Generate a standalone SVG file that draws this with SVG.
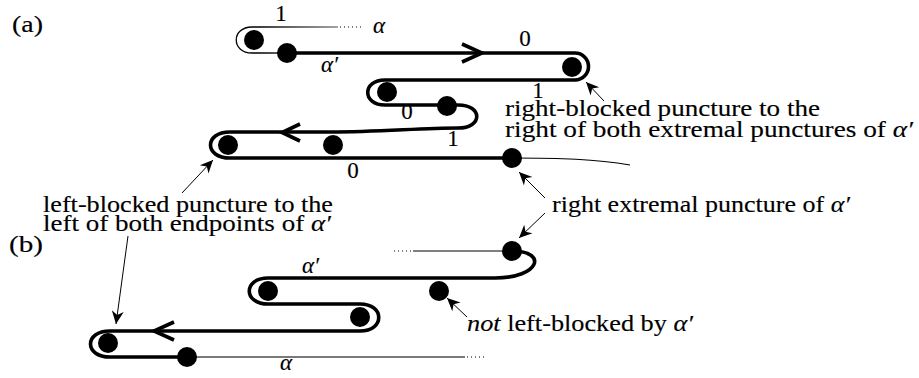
<svg xmlns="http://www.w3.org/2000/svg" width="919" height="378" viewBox="0 0 919 378">
<defs>
<style>
text{font-family:'Liberation Serif','Times New Roman',serif;font-size:23px;fill:#000;stroke:#000;stroke-width:0.15}
.m{font-style:italic}
.p{fill:#000}
.thick{fill:none;stroke:#000;stroke-width:3.6;stroke-linejoin:round}
.chev{fill:none;stroke:#000;stroke-width:3.6;stroke-linejoin:miter}
.thin{fill:none;stroke:#000;stroke-width:1.1}
.gray{fill:none;stroke:#7a7a7a;stroke-width:2}
.dot{stroke-dasharray:1 3}
.ann{fill:none;stroke:#000;stroke-width:1;marker-end:url(#ah)}
</style>
<marker id="ah" markerUnits="userSpaceOnUse" markerWidth="15" markerHeight="13" viewBox="-14 -6.5 15 13" refX="0" refY="0" orient="auto">
<path d="M0,0 L-13,-6 L-9,0 L-13,6 Z" fill="#000"/>
</marker>
<linearGradient id="ga" gradientUnits="userSpaceOnUse" x1="260" y1="0" x2="340" y2="0">
<stop offset="0" stop-color="#000"/><stop offset="1" stop-color="#888"/>
</linearGradient>
</defs>
<rect width="919" height="378" fill="#fff"/>

<g id="connectors">
  <path d="M287,53 H252 C231,53 231,27 252,27 H338" fill="none" stroke="url(#ga)" stroke-width="1.3"/>
  <path class="thin dot" d="M340,27 H364" stroke="#888"/>
  <path class="thick" d="M287,53 H575 A13.5,13.5 0 0 1 575,80 H385 C362,80 362,105 385,105 H458 C483,105 483,128 458,128 C420,128 380,132 330,132 H230 C204,132 204,158 230,158 H512"/>
  <path class="chev" d="M462,44 L482,53 L462,62"/>
  <path class="chev" d="M300,124 L282,132.5 L300,141"/>
  <path class="thin" d="M512,158 C560,158 595,159 630,165"/>
  <path class="thin" d="M512,251 H413"/>
  <path class="thin dot" d="M411,251 H392"/>
  <path class="thick" d="M512,251 C548,251 540,278 495,278 H268 C243,278 243,304 268,304 H360 C385,304 385,331 360,331 H110 C84,331 84,357 110,357 H187"/>
  <path class="chev" d="M174,322 L154,331 L174,340"/>
  <path class="gray" d="M187,357 H465"/>
  <path class="gray dot" d="M467,357 H486"/>
  <path class="ann" d="M604,101 L586,82"/>
  <path class="ann" d="M182,193 L213,160"/>
  <path class="ann" d="M128,236 L116,324"/>
  <path class="ann" d="M545,198 L519,172"/>
  <path class="ann" d="M545,213 L519,238"/>
  <path class="ann" d="M467,317 L447,298"/>
</g>

<g id="punctures-a">
  <g id="pa1"><circle class="p" cx="254" cy="40" r="10"/></g>
  <g id="pa2"><circle class="p" cx="287" cy="53" r="10"/></g>
  <g id="pa3"><circle class="p" cx="572" cy="67" r="10"/></g>
  <g id="pa4"><circle class="p" cx="387" cy="92" r="10"/></g>
  <g id="pa5"><circle class="p" cx="447" cy="106" r="10"/></g>
  <g id="pa6"><circle class="p" cx="228" cy="145" r="10"/></g>
  <g id="pa7"><circle class="p" cx="333" cy="145" r="10"/></g>
  <g id="pa8"><circle class="p" cx="512" cy="158" r="10"/></g>
</g>
<g id="punctures-b">
  <g id="pb1"><circle class="p" cx="512" cy="251" r="10"/></g>
  <g id="pb2"><circle class="p" cx="439" cy="291" r="10"/></g>
  <g id="pb3"><circle class="p" cx="268" cy="291" r="10"/></g>
  <g id="pb4"><circle class="p" cx="360" cy="317" r="10"/></g>
  <g id="pb5"><circle class="p" cx="108" cy="343" r="10"/></g>
  <g id="pb6"><circle class="p" cx="187" cy="357" r="10"/></g>
</g>

<g id="labels" font-family="'Liberation Serif', serif" font-size="23">
  <text x="12" y="32" textLength="31" lengthAdjust="spacingAndGlyphs">(a)</text>
  <text x="9" y="252" textLength="34" lengthAdjust="spacingAndGlyphs">(b)</text>
  <text x="281" y="21" text-anchor="middle">1</text>
  <text x="525" y="46" text-anchor="middle">0</text>
  <text x="538" y="98" text-anchor="middle">1</text>
  <text x="407" y="119" text-anchor="middle">0</text>
  <text x="453" y="146" text-anchor="middle">1</text>
  <text x="353" y="178" text-anchor="middle">0</text>
  <text class="m" x="373" y="33">α</text>
  <text class="m" x="321" y="72">α′</text>
  <text class="m" x="302" y="273">α′</text>
  <text class="m" x="280" y="370">α</text>
  <text x="505" y="116" textLength="315" lengthAdjust="spacingAndGlyphs">right-blocked puncture to the</text>
  <text x="505" y="137" textLength="408" lengthAdjust="spacingAndGlyphs">right of both extremal punctures of <tspan class="m">α′</tspan></text>
  <text x="43" y="212" textLength="290" lengthAdjust="spacingAndGlyphs">left-blocked puncture to the</text>
  <text x="43" y="231" textLength="288" lengthAdjust="spacingAndGlyphs">left of both endpoints of <tspan class="m">α′</tspan></text>
  <text x="552" y="212" textLength="298" lengthAdjust="spacingAndGlyphs">right extremal puncture of <tspan class="m">α′</tspan></text>
  <text x="467" y="331" textLength="226" lengthAdjust="spacingAndGlyphs"><tspan class="m">not</tspan> left-blocked by <tspan class="m">α′</tspan></text>
</g>
</svg>
